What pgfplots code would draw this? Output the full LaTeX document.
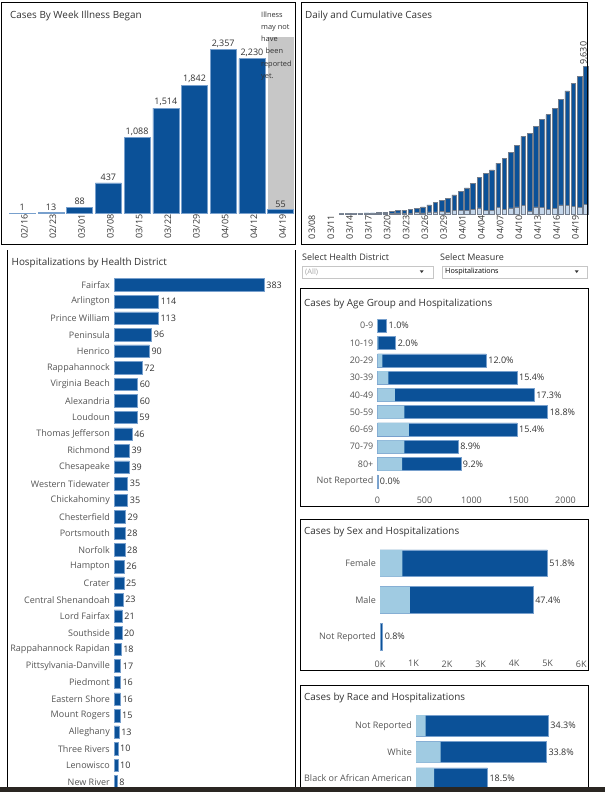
\documentclass[border=0pt]{standalone}
\usepackage{fontspec}
\setmainfont{Open Sans}
\usepackage{pgfplots}
\pgfplotsset{compat=1.18}

\definecolor{vdhblue}{RGB}{11,81,152}
\definecolor{vdhedge}{RGB}{120,160,205}
\definecolor{hosplight}{RGB}{160,203,226}
\definecolor{dailylight}{RGB}{196,214,234}
\definecolor{dailyedge}{RGB}{115,125,140}
\definecolor{labgray}{RGB}{85,85,85}
\definecolor{titlegray}{RGB}{51,51,51}
\definecolor{pendgray}{RGB}{199,199,199}
\definecolor{bandbrown}{RGB}{42,38,34}

\newcommand{\lab}{\fontsize{9}{10}\selectfont}
\newcommand{\ttl}{\fontsize{9.9}{11}\selectfont}

\pgfplotsset{
  panel/.style={scale only axis, clip=false,
    axis line style={draw=none}, major tick length=0pt, tick style={draw=none},
    ticklabel style={font=\lab, text=labgray}},
  hbars/.style={panel, xbar, bar shift=0pt, y dir=reverse,
    yticklabel style={inner sep=1pt, xshift=-3pt}},
  vals/.style={point meta=explicit symbolic, nodes near coords,
    every node near coord/.append style={font=\lab, text=titlegray}},
}

\begin{document}
\begin{tikzpicture}
\useasboundingbox (0pt,0pt) rectangle (605pt,-792pt);
\fill[white] (0pt,0pt) rectangle (605pt,-792pt);

% weekly onset
\begin{axis}[panel, ybar, bar shift=0pt, bar width=26pt,
  at={(7.95pt,-213.3pt)}, anchor=south west, width=287pt, height=193.3pt,
  xmin=-0.5, xmax=9.5, ymin=0, ymax=2785, ytick=\empty,
  xtick={0,...,9},
  xticklabels={02/16,02/23,03/01,03/08,03/15,03/22,03/29,04/05,04/12,04/19},
  xticklabel style={rotate=90, anchor=east, text=titlegray, inner sep=1pt, yshift=-2pt}]
\addplot[fill=pendgray, draw=none] coordinates {(9,2545)};
\addplot[fill=vdhblue, draw=vdhedge, line width=0.6pt, vals,
  every node near coord/.append style={inner sep=2pt}] coordinates {
  (0,1) [1] (1,13) [13] (2,88) [88] (3,437) [437] (4,1088) [1,088]
  (5,1514) [1,514] (6,1842) [1,842] (7,2357) [2,357] (8,2230) [2,230] (9,55) [55]};
\end{axis}

% daily and cumulative
\begin{axis}[panel, ybar, bar shift=0pt, bar width=4.6pt,
  at={(302pt,-214pt)}, anchor=south west, width=286pt, height=192pt,
  xmin=-1.28, xmax=44.34, ymin=0, ymax=12553, ytick=\empty,
  xtick={0,3,...,42},
  xticklabels={03/08,03/11,03/14,03/17,03/20,03/23,03/26,03/29,04/01,04/04,04/07,04/10,04/13,04/16,04/19},
  xticklabel style={rotate=90, anchor=east, text=titlegray, inner sep=1pt, yshift=-2pt}]
\addplot[fill=vdhblue, draw=dailyedge, line width=0.5pt] coordinates {
  (5,30) (6,41) (7,45) (8,51) (9,67) (10,77) (11,94) (12,114) (13,152) (14,219)
  (15,254) (16,290) (17,391) (18,460) (19,604) (20,739) (21,890) (22,1020) (23,1250)
  (24,1484) (25,1706) (26,2012) (27,2407) (28,2637) (29,2878) (30,3333) (31,3645)
  (32,4042) (33,4509) (34,5077) (35,5274) (36,5747) (37,6182) (38,6500) (39,6889)
  (40,7491) (41,8053) (42,8537) (43,8990) (44,9630)};
\addplot[fill=dailylight, draw=dailyedge, line width=0.5pt] coordinates {
  (5,13) (6,11) (7,4) (8,6) (9,16) (10,10) (11,17) (12,20) (13,38) (14,67)
  (15,35) (16,36) (17,101) (18,69) (19,144) (20,135) (21,151) (22,130) (23,230)
  (24,234) (25,222) (26,306) (27,395) (28,230) (29,241) (30,455) (31,312)
  (32,397) (33,467) (34,568) (35,197) (36,473) (37,435) (38,318) (39,389)
  (40,602) (41,562) (42,484) (43,453) (44,640)};
\addplot[draw=none, fill=none, vals,
  every node near coord/.append style={rotate=90, anchor=west, inner sep=2pt, yshift=2pt}]
  coordinates {(44,9630) [9,630]};
\end{axis}

% hospitalizations by health district
\begin{axis}[hbars, bar width=12.5pt,
  at={(114pt,-276.7pt)}, anchor=north west, width=181pt, height=513.4pt,
  xmin=0, xmax=461.7, ymin=-0.5, ymax=30.5, xtick=\empty,
  ytick={0,...,30},
  yticklabels={Fairfax,Arlington,Prince William,Peninsula,Henrico,Rappahannock,
    Virginia Beach,Alexandria,Loudoun,Thomas Jefferson,Richmond,Chesapeake,
    Western Tidewater,Chickahominy,Chesterfield,Portsmouth,Norfolk,Hampton,Crater,
    Central Shenandoah,Lord Fairfax,Southside,Rappahannock Rapidan,
    Pittsylvania-Danville,Piedmont,Eastern Shore,Mount Rogers,Alleghany,
    Three Rivers,Lenowisco,New River}]
\addplot[fill=vdhblue, draw=vdhedge, line width=0.5pt, vals,
  every node near coord/.append style={anchor=west, inner sep=2pt}] coordinates {
  (383,0) [383] (114,1) [114] (113,2) [113] (96,3) [96] (90,4) [90] (72,5) [72]
  (60,6) [60] (60,7) [60] (59,8) [59] (46,9) [46] (39,10) [39] (39,11) [39]
  (35,12) [35] (35,13) [35] (29,14) [29] (28,15) [28] (28,16) [28] (26,17) [26]
  (25,18) [25] (23,19) [23] (21,20) [21] (20,21) [20] (18,22) [18] (17,23) [17]
  (16,24) [16] (16,25) [16] (15,26) [15] (13,27) [13] (10,28) [10] (10,29) [10]
  (8,30) [8]};
\end{axis}

% age group
\begin{axis}[hbars, bar width=13pt,
  at={(377.5pt,-317pt)}, anchor=north west, width=206.8pt, height=173pt,
  xmin=0, xmax=2200, ymin=-0.5, ymax=9.5,
  xtick={0,500,1000,1500,2000}, xticklabels={0,500,1000,1500,2000},
  xticklabel style={yshift=-3pt},
  ytick={0,...,9},
  yticklabels={0-9,10-19,20-29,30-39,40-49,50-59,60-69,70-79,80+,Not Reported}]
\addplot[fill=vdhblue, draw=vdhedge, line width=0.4pt, vals,
  every node near coord/.append style={anchor=west, inner sep=2pt}] coordinates {
  (96,0) [1.0\%] (193,1) [2.0\%] (1156,2) [12.0\%] (1483,3) [15.4\%]
  (1666,4) [17.3\%] (1810,5) [18.8\%] (1483,6) [15.4\%] (857,7) [8.9\%]
  (886,8) [9.2\%] (3,9) [0.0\%]};
\addplot[fill=hosplight, draw=none] coordinates {
  (5,0) (10,1) (51,2) (115,3) (186,4) (285,5) (335,6) (285,7) (261,8) (0,9)};
\end{axis}

% sex
\begin{axis}[hbars, bar width=26.7pt,
  at={(380pt,-545pt)}, anchor=north west, width=201.2pt, height=110pt,
  xmin=0, xmax=6000, ymin=-0.5, ymax=2.5,
  xtick={0,1000,...,6000}, xticklabels={0K,1K,2K,3K,4K,5K,6K},
  xticklabel style={yshift=-2pt},
  ytick={0,1,2}, yticklabels={Female,Male,Not Reported}]
\addplot[fill=vdhblue, draw=vdhedge, line width=0.4pt, vals,
  every node near coord/.append style={anchor=west, inner sep=2pt}] coordinates {
  (4988,0) [51.8\%] (4565,1) [47.4\%] (77,2) [0.8\%]};
\addplot[fill=hosplight, draw=none] coordinates {(665,0) (894,1) (0,2)};
\end{axis}

% race
\begin{axis}[hbars, bar width=21pt,
  at={(416pt,-712.55pt)}, anchor=north west, width=168.2pt, height=78.9pt,
  xmin=0, xmax=4200, ymin=-0.5, ymax=2.5, xtick=\empty,
  ytick={0,1,2}, yticklabels={Not Reported,White,Black or African American}]
\addplot[fill=vdhblue, draw=vdhedge, line width=0.4pt, vals,
  every node near coord/.append style={anchor=west, inner sep=2pt}] coordinates {
  (3303,0) [34.3\%] (3255,1) [33.8\%] (1782,2) [18.5\%]};
\addplot[fill=hosplight, draw=none] coordinates {(242,0) (617,1) (450,2)};
\end{axis}

\begin{scope}[x=1pt, y=-1pt]
% frames
\draw[black, line width=0.8pt] (1.5,2.5) rectangle (295,244);
\draw[black, line width=0.8pt] (301.5,2.5) rectangle (587.5,244);
\draw[black, line width=0.8pt] (7.5,250) -- (7.5,792);
\draw[black, line width=0.8pt] (295,250) -- (295,792);
\draw[black, line width=0.8pt] (300.5,288.5) rectangle (588,506);
\draw[black, line width=0.8pt] (300.5,519) rectangle (588,670);
\draw[black, line width=0.8pt] (300.5,792) |- (588,685) -- (588,792);
% titles
\node[anchor=west, font=\ttl, text=titlegray, inner sep=0] at (10,15.7) {Cases By Week Illness Began};
\node[anchor=west, font=\ttl, text=titlegray, inner sep=0] at (305,15.7) {Daily and Cumulative Cases};
\node[anchor=west, font=\ttl, text=titlegray, inner sep=0] at (11.5,262.7) {Hospitalizations by Health District};
\node[anchor=west, font=\ttl, text=titlegray, inner sep=0] at (304,304) {Cases by Age Group and Hospitalizations};
\node[anchor=west, font=\ttl, text=titlegray, inner sep=0] at (304,531.7) {Cases by Sex and Hospitalizations};
\node[anchor=west, font=\ttl, text=titlegray, inner sep=0] at (304,698.3) {Cases by Race and Hospitalizations};
\node[anchor=north west, align=left, font=\fontsize{7.4}{12.2}\selectfont, text=titlegray, inner sep=0]
  at (261,11.5) {Illness\\may not\\have\\\hspace*{4.5pt}been\\reported\\yet.};
% filters
\node[anchor=west, font=\lab, text=titlegray, inner sep=0] at (302,256.7) {Select Health District};
\draw[gray!45] (302,265.7) rectangle (432.7,278);
\node[anchor=west, font=\fontsize{7.5}{9}\selectfont, text=gray!70, inner sep=0] at (305,271.8) {(All)};
\fill[titlegray] (419.7,270.3) -- (423.7,270.3) -- (421.7,273) -- cycle;
\node[anchor=west, font=\lab, text=titlegray, inner sep=0] at (440,256.7) {Select Measure};
\draw[gray!45] (441.7,265.7) rectangle (587,278);
\node[anchor=west, font=\fontsize{7.2}{9}\selectfont, text=black, inner sep=0] at (445,271.8) {Hospitalizations};
\fill[titlegray] (574.7,270.3) -- (578.7,270.3) -- (576.7,273) -- cycle;
% bottom band
\fill[bandbrown] (0,787) rectangle (605,792);
\end{scope}
\end{tikzpicture}
\end{document}
